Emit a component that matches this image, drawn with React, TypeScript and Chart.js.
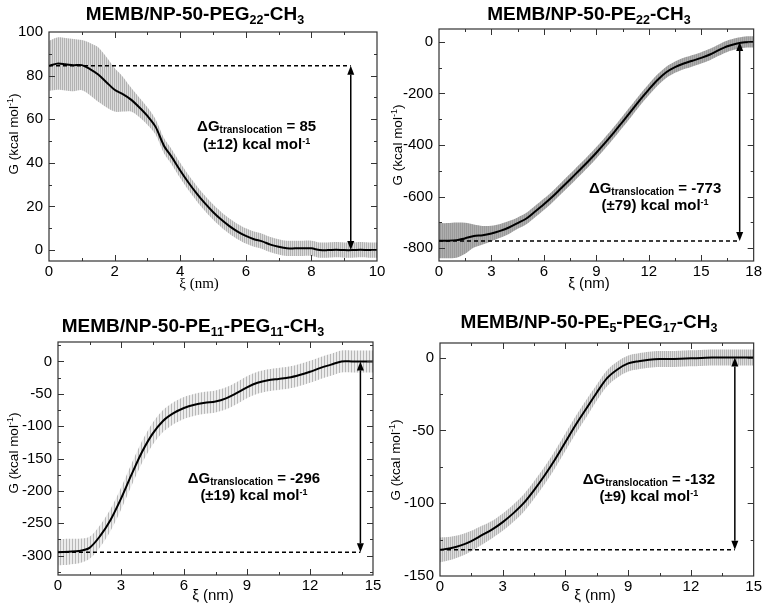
import React, { useEffect, useRef } from "react";
import { Chart, registerables } from "chart.js";
Chart.register(...registerables);

const SANS = '"Liberation Sans", Arial, Helvetica, sans-serif';
const SERIF = '"Liberation Serif", "Times New Roman", serif';

// ---------- Panel 1: MEMB/NP-50-PEG22-CH3 ----------
const p1X = [0, 0.25, 0.5, 0.75, 1, 1.25, 1.5, 1.75, 2, 2.25, 2.5, 2.75, 3, 3.25, 3.5, 3.75, 4, 4.25, 4.5, 4.75, 5, 5.25, 5.5, 5.75, 6, 6.25, 6.5, 6.75, 7, 7.25, 7.5, 7.75, 8, 8.25, 8.5, 8.75, 9, 9.25, 9.5, 9.75, 10];
const p1G = [84.5, 85.5, 85.2, 84.8, 84.8, 83, 80.5, 77, 73.5, 71.5, 69, 65.5, 61.5, 56.5, 48, 42.5, 36.5, 31, 26, 21.5, 17.5, 14, 11, 8.5, 6.5, 5, 4, 2.5, 1.5, 0.8, 0.8, 0.8, 0.8, 0, 0, 0.2, 0, 0, 0.2, 0, 0];
const p1Err = [11.5, 12, 12, 12, 11.5, 12, 12.5, 11.5, 10, 8, 5.5, 4.5, 4, 3.5, 3.5, 3.5, 3.5, 3.5, 3.5, 3.5, 3.5, 3.5, 3.5, 3.5, 3.5, 3.5, 3.5, 3.5, 3.5, 3.5, 3.5, 3.5, 3.5, 3.5, 3.5, 3.5, 3.5, 3.5, 3.5, 3.5, 3.5];
const p1XTicks = [0, 2, 4, 6, 8, 10];
const p1YTicks = [0, 20, 40, 60, 80, 100];

// ---------- Panel 2: MEMB/NP-50-PE22-CH3 ----------
const p2X = [0, 0.5, 1, 1.5, 2, 2.5, 3, 3.5, 4, 4.5, 5, 5.5, 6, 6.5, 7, 7.5, 8, 8.5, 9, 9.5, 10, 10.5, 11, 11.5, 12, 12.5, 13, 13.5, 14, 14.5, 15, 15.5, 16, 16.5, 17, 17.5, 18];
const p2G = [-771, -771, -769, -762, -753, -750, -743, -733, -720, -703, -685, -658, -630, -600, -567, -534, -500, -466, -430, -392, -352, -310, -268, -225, -185, -148, -118, -98, -84, -73, -62, -49, -32, -17, -7, -1, 0];
const p2Err = [68, 68, 68, 60, 45, 36, 30, 27, 25, 22, 22, 22, 22, 22, 22, 22, 22, 22, 22, 22, 22, 22, 22, 22, 22, 22, 22, 22, 22, 22, 22, 22, 22, 22, 22, 22, 22];
const p2XTicks = [0, 3, 6, 9, 12, 15, 18];
const p2YTicks = [-800, -600, -400, -200, 0];

// ---------- Panel 3: MEMB/NP-50-PE11-PEG11-CH3 ----------
const p3X = [0, 0.5, 1, 1.5, 2, 2.5, 3, 3.5, 4, 4.5, 5, 5.5, 6, 6.5, 7, 7.5, 8, 8.5, 9, 9.5, 10, 10.5, 11, 11.5, 12, 12.5, 13, 13.5, 14, 14.5, 15];
const p3G = [-295, -294, -293, -288, -270, -245, -212, -175, -140, -112, -92, -80, -72, -67, -64, -62, -57, -49, -40, -33, -29, -27, -25, -21, -16, -10, -5, 0, 0, 0, 0];
const p3Err = [20, 20, 19, 17, 17, 17, 17, 17, 17, 17, 17, 17, 17, 17, 17, 17, 17, 17, 17, 17, 17, 17, 17, 17, 17, 17, 17, 17, 17, 17, 17];
const p3XTicks = [0, 3, 6, 9, 12, 15];
const p3YTicks = [-300, -250, -200, -150, -100, -50, 0];

// ---------- Panel 4: MEMB/NP-50-PE5-PEG17-CH3 ----------
const p4X = [0, 0.5, 1, 1.5, 2, 2.5, 3, 3.5, 4, 4.5, 5, 5.5, 6, 6.5, 7, 7.5, 8, 8.5, 9, 9.5, 10, 10.5, 11, 11.5, 12, 12.5, 13, 13.5, 14, 14.5, 15];
const p4G = [-132, -131, -129, -126, -122, -118, -113, -107, -100, -91, -81, -70, -58, -46, -35, -24, -14, -8, -4, -2.5, -1.5, -1, -1, -0.8, -0.5, -0.3, 0, 0, 0, 0, 0];
const p4Err = [8.5, 8, 7.5, 7, 6.5, 6, 6, 6, 6, 6, 6, 6, 6, 6, 6, 5.5, 5.5, 5.5, 5.5, 5.5, 5.5, 5.5, 5.5, 5.5, 5.5, 5.5, 5.5, 5.5, 5.5, 5.5, 5.5];
const p4XTicks = [0, 3, 6, 9, 12, 15];
const p4YTicks = [-150, -100, -50, 0];

// ---------- Annotations ----------
const titles: [string, number][][] = [
  [["MEMB/NP-50-PEG", 0], ["22", 1], ["-CH", 0], ["3", 1]],
  [["MEMB/NP-50-PE", 0], ["22", 1], ["-CH", 0], ["3", 1]],
  [["MEMB/NP-50-PE", 0], ["11", 1], ["-PEG", 0], ["11", 1], ["-CH", 0], ["3", 1]],
  [["MEMB/NP-50-PE", 0], ["5", 1], ["-PEG", 0], ["17", 1], ["-CH", 0], ["3", 1]],
];
const deltaG = ["85", "-773", "-296", "-132"];
const deltaErr = ["±12", "±79", "±19", "±9"];
const startLevel = [84.5, -772, -295, -132];
const arrowX = [9.2, 17.2, 14.4, 14.1];
const annoX = [6.33, 12.36, 9.33, 9.99];
const annoY = [57, -563, -179, -83];

// ---------- Layout / style ----------
type Layout = {
  left: number; top: number; w: number; h: number;
  L: number; T: number; R: number; B: number;
  xMin: number; xMax: number; yMin: number; yMax: number;
  title: [number, number]; yTitle: [number, number]; xTitle: [number, number];
  xSerif: boolean; stripe: string; gap: string; sw: number; gw: number;
};

const layouts: Layout[] = [
  { left: 0, top: 0, w: 395, h: 300, L: 49, T: 32, R: 377, B: 261, xMin: 0, xMax: 10, yMin: -5, yMax: 100,
    title: [195, 13], yTitle: [13, 134], xTitle: [199, 283], xSerif: true, stripe: "#b2b2b2", gap: "#dcdcdc", sw: 1, gw: 1 },
  { left: 382, top: 0, w: 382, h: 300, L: 57, T: 29, R: 372, B: 261, xMin: 0, xMax: 18, yMin: -850, yMax: 50,
    title: [207, 13], yTitle: [15, 145], xTitle: [207, 283], xSerif: false, stripe: "#9a9a9a", gap: "#aeaeae", sw: 1, gw: 1 },
  { left: 0, top: 300, w: 395, h: 310, L: 58, T: 42, R: 373, B: 275, xMin: 0, xMax: 15, yMin: -330, yMax: 30,
    title: [193, 25], yTitle: [13, 153], xTitle: [213, 295], xSerif: false, stripe: "#b8b8b8", gap: "#ececec", sw: 1, gw: 2 },
  { left: 382, top: 300, w: 382, h: 310, L: 58, T: 43, R: 372, B: 276, xMin: 0, xMax: 15, yMin: -150, yMax: 10,
    title: [207, 21], yTitle: [13, 160], xTitle: [213, 295], xSerif: false, stripe: "#b6b6b6", gap: "#dedede", sw: 1, gw: 1 },
];

const series = [
  { xs: p1X, g: p1G, err: p1Err, xt: p1XTicks, yt: p1YTicks },
  { xs: p2X, g: p2G, err: p2Err, xt: p2XTicks, yt: p2YTicks },
  { xs: p3X, g: p3G, err: p3Err, xt: p3XTicks, yt: p3YTicks },
  { xs: p4X, g: p4G, err: p4Err, xt: p4XTicks, yt: p4YTicks },
];

type Seg = { t: string; f: string; dy: number };

function drawRich(ctx: CanvasRenderingContext2D, segs: Seg[], cx: number, base: number) {
  let total = 0;
  const ws = segs.map((s) => {
    ctx.font = s.f;
    const w = ctx.measureText(s.t).width;
    total += w;
    return w;
  });
  let x = cx - total / 2;
  ctx.textAlign = "left";
  ctx.textBaseline = "alphabetic";
  segs.forEach((s, i) => {
    ctx.font = s.f;
    ctx.fillText(s.t, x, base + s.dy);
    x += ws[i];
  });
}

function minors(ticks: number[], lo: number, hi: number): number[] {
  const step = ticks[1] - ticks[0];
  const out: number[] = [];
  const first = ticks[0] - step / 2 * Math.ceil((ticks[0] - lo) / (step / 2));
  for (let v = first; v <= hi + 1e-9; v += step / 2) {
    if (v < lo - 1e-9) continue;
    const isMajor = ticks.some((t) => Math.abs(t - v) < 1e-9);
    if (!isMajor && v > lo + 1e-9 && v < hi - 1e-9) out.push(v);
  }
  return out;
}

function buildChart(canvas: HTMLCanvasElement, i: number): Chart {
  const lay = layouts[i];
  const s = series[i];
  const ctx0 = canvas.getContext("2d")!;
  const pc = document.createElement("canvas");
  pc.width = lay.sw + lay.gw;
  pc.height = 4;
  const pg = pc.getContext("2d")!;
  pg.fillStyle = lay.gap;
  pg.fillRect(0, 0, pc.width, 4);
  pg.fillStyle = lay.stripe;
  pg.fillRect(0, 0, lay.sw, 4);
  const pattern = ctx0.createPattern(pc, "repeat");

  const mean = s.xs.map((x, k) => ({ x, y: s.g[k] }));
  const upper = s.xs.map((x, k) => ({ x, y: s.g[k] + s.err[k] }));
  const lower = s.xs.map((x, k) => ({ x, y: s.g[k] - s.err[k] }));

  const decor = {
    id: "decor" + i,
    afterDatasetsDraw(chart: any) {
      const ctx: CanvasRenderingContext2D = chart.ctx;
      const ca = chart.chartArea;
      const xs = chart.scales.x;
      const ys = chart.scales.y;
      ctx.save();
      // frame
      ctx.strokeStyle = "#333";
      ctx.lineWidth = 1.2;
      ctx.setLineDash([]);
      ctx.strokeRect(ca.left, ca.top, ca.right - ca.left, ca.bottom - ca.top);
      // ticks (inward, mirrored)
      ctx.lineWidth = 1;
      const tickX = (v: number, len: number) => {
        const px = Math.round(xs.getPixelForValue(v)) + 0.5;
        ctx.beginPath();
        ctx.moveTo(px, ca.bottom); ctx.lineTo(px, ca.bottom - len);
        ctx.moveTo(px, ca.top); ctx.lineTo(px, ca.top + len);
        ctx.stroke();
      };
      const tickY = (v: number, len: number) => {
        const py = Math.round(ys.getPixelForValue(v)) + 0.5;
        ctx.beginPath();
        ctx.moveTo(ca.left, py); ctx.lineTo(ca.left + len, py);
        ctx.moveTo(ca.right, py); ctx.lineTo(ca.right - len, py);
        ctx.stroke();
      };
      s.xt.forEach((v) => { if (v > lay.xMin && v < lay.xMax) tickX(v, 6); });
      minors(s.xt, lay.xMin, lay.xMax).forEach((v) => tickX(v, 3));
      s.yt.forEach((v) => { if (v > lay.yMin && v < lay.yMax) tickY(v, 6); });
      minors(s.yt, lay.yMin, lay.yMax).forEach((v) => tickY(v, 3));

      // dashed level and arrow
      const ax = xs.getPixelForValue(arrowX[i]);
      const y0 = ys.getPixelForValue(0);
      const y1 = ys.getPixelForValue(startLevel[i]);
      ctx.strokeStyle = "#000";
      ctx.fillStyle = "#000";
      ctx.lineWidth = 1.5;
      ctx.setLineDash([4, 3]);
      ctx.beginPath();
      ctx.moveTo(xs.getPixelForValue(0), y1);
      ctx.lineTo(ax, y1);
      ctx.stroke();
      ctx.setLineDash([]);
      const dir = Math.sign(y1 - y0);
      const hl = 9, hw = 3.5;
      ctx.beginPath();
      ctx.moveTo(ax, y0 + dir * hl);
      ctx.lineTo(ax, y1 - dir * hl);
      ctx.stroke();
      ctx.beginPath();
      ctx.moveTo(ax, y0);
      ctx.lineTo(ax - hw, y0 + dir * hl);
      ctx.lineTo(ax + hw, y0 + dir * hl);
      ctx.closePath();
      ctx.fill();
      ctx.beginPath();
      ctx.moveTo(ax, y1);
      ctx.lineTo(ax - hw, y1 - dir * hl);
      ctx.lineTo(ax + hw, y1 - dir * hl);
      ctx.closePath();
      ctx.fill();

      // annotation text
      const big = `bold 15px ${SANS}`;
      const small = `bold 10px ${SANS}`;
      const cx = xs.getPixelForValue(annoX[i]);
      const cy = ys.getPixelForValue(annoY[i]);
      ctx.fillStyle = "#000";
      drawRich(ctx, [
        { t: "ΔG", f: big, dy: 0 },
        { t: "translocation", f: small, dy: 2 },
        { t: " = " + deltaG[i], f: big, dy: 0 },
      ], cx, cy + 5.5);
      drawRich(ctx, [
        { t: "(" + deltaErr[i] + ") kcal mol", f: big, dy: 0 },
        { t: "-1", f: `bold 9px ${SANS}`, dy: -5 },
      ], cx, cy + 5.5 + 17.5);
      ctx.restore();
    },
    afterDraw(chart: any) {
      const ctx: CanvasRenderingContext2D = chart.ctx;
      ctx.save();
      ctx.fillStyle = "#000";
      // title
      const tb = `bold 19px ${SANS}`;
      const ts = `bold 12.5px ${SANS}`;
      drawRich(ctx, titles[i].map(([t, sub]) => ({ t, f: sub ? ts : tb, dy: sub ? 4 : 0 })), lay.title[0], lay.title[1] + 7);
      // x title
      const xf = lay.xSerif ? `15px ${SERIF}` : `15px ${SANS}`;
      drawRich(ctx, [{ t: "ξ (nm)", f: xf, dy: 0 }], lay.xTitle[0], lay.xTitle[1] + 5);
      // y title
      ctx.translate(lay.yTitle[0], lay.yTitle[1]);
      ctx.rotate(-Math.PI / 2);
      drawRich(ctx, [
        { t: "G (kcal mol", f: `13.5px ${SANS}`, dy: 0 },
        { t: "-1", f: `9px ${SANS}`, dy: -5.5 },
        { t: ")", f: `13.5px ${SANS}`, dy: 0 },
      ], 0, 5);
      ctx.restore();
    },
  };

  const tickFont = { family: SANS, size: 15 };
  return new Chart(canvas, {
    type: "line",
    data: {
      datasets: [
        { data: mean, borderColor: "#000", borderWidth: 2, pointRadius: 0, tension: 0.3, fill: false, order: 0 },
        { data: upper, borderWidth: 0, borderColor: "rgba(0,0,0,0)", pointRadius: 0, tension: 0.3, fill: false, order: 2 },
        { data: lower, borderWidth: 0, borderColor: "rgba(0,0,0,0)", backgroundColor: pattern as any, pointRadius: 0, tension: 0.3, fill: "-1", order: 1 },
      ],
    } as any,
    options: {
      responsive: false,
      animation: false,
      devicePixelRatio: 1,
      events: [],
      layout: { padding: { left: 0, top: lay.T, right: lay.w - lay.R, bottom: 0 } },
      plugins: {
        legend: { display: false },
        tooltip: { enabled: false },
        filler: { drawTime: "beforeDatasetsDraw" },
      } as any,
      scales: {
        x: {
          type: "linear",
          min: lay.xMin,
          max: lay.xMax,
          grid: { display: false, drawTicks: false },
          border: { display: false },
          ticks: { font: tickFont, color: "#000", padding: 2, maxRotation: 0, autoSkip: false, callback: (v: any) => String(v) },
          afterBuildTicks: (sc: any) => { sc.ticks = s.xt.map((v) => ({ value: v })); },
          afterFit: (sc: any) => { sc.height = lay.h - lay.B; },
        },
        y: {
          type: "linear",
          min: lay.yMin,
          max: lay.yMax,
          grid: { display: false, drawTicks: false },
          border: { display: false },
          ticks: { font: tickFont, color: "#000", padding: 6, autoSkip: false, callback: (v: any) => String(v) },
          afterBuildTicks: (sc: any) => { sc.ticks = s.yt.map((v) => ({ value: v })); },
          afterFit: (sc: any) => { sc.width = lay.L; },
        },
      } as any,
    },
    plugins: [decor],
  });
}

export default function App() {
  const r0 = useRef<HTMLCanvasElement>(null);
  const r1 = useRef<HTMLCanvasElement>(null);
  const r2 = useRef<HTMLCanvasElement>(null);
  const r3 = useRef<HTMLCanvasElement>(null);
  const refs = [r0, r1, r2, r3];
  useEffect(() => {
    const charts = refs.map((r, i) => buildChart(r.current!, i));
    return () => charts.forEach((c) => c.destroy());
  }, []);
  return (
    <div style={{ position: "fixed", left: 0, top: 0, width: 764, height: 610, background: "#fff", overflow: "hidden" }}>
      {layouts.map((l, i) => (
        <canvas
          key={i}
          ref={refs[i]}
          width={l.w}
          height={l.h}
          style={{ position: "absolute", left: l.left, top: l.top, width: l.w, height: l.h }}
        />
      ))}
    </div>
  );
}
